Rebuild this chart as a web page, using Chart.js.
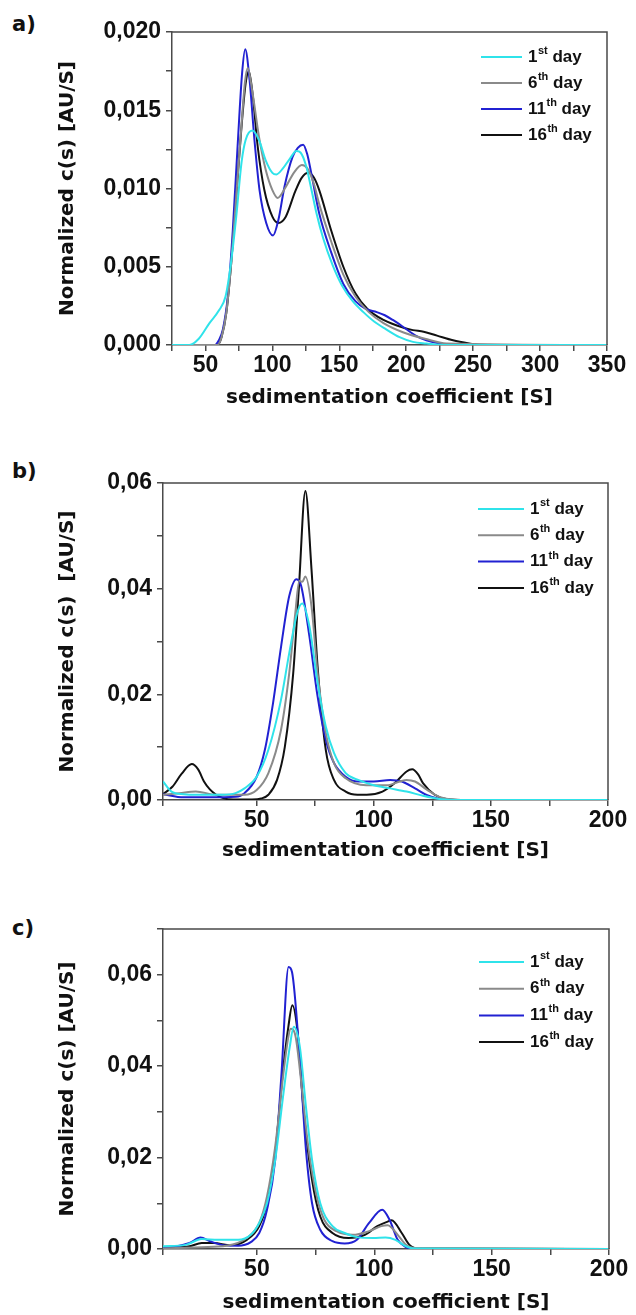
<!DOCTYPE html>
<html>
<head>
<meta charset="utf-8">
<script src="https://cdn.jsdelivr.net/npm/chart.js@4.4.1/dist/chart.umd.min.js"></script>
<style>
  body { margin: 0; background: #fff; }
  #wrap { position: relative; width: 636px; height: 1315px; }
  canvas { position: absolute; left: 0; }
  .lab { position: absolute; left: 12px; font: bold 21px "DejaVu Sans", sans-serif; color: #111; }
</style>
</head>
<body>
<div id="wrap">
  <div class="lab" style="top:12px">a)</div>
  <div class="lab" style="top:459px">b)</div>
  <div class="lab" style="top:916px">c)</div>
  <canvas id="chartA" width="636" height="420" style="top:0"></canvas>
  <canvas id="chartB" width="636" height="450" style="top:420px"></canvas>
  <canvas id="chartC" width="636" height="445" style="top:870px"></canvas>
</div>
<script>
// legend labels
const dayNum = ['1', '6', '11', '16'];
const daySup = ['st', 'th', 'th', 'th'];
const dayColors = ['#2fe3ea', '#8a8a8a', '#2121d2', '#111111'];

// panel a) sedimentation coefficient [S] and c(s)
const a1x = [25, 38, 45, 53, 60, 65, 69, 73, 77, 80, 85, 90, 95, 100, 103, 108, 113, 118, 121, 125, 129, 133, 138, 145, 152, 160, 168, 176, 185, 195, 205, 215, 230, 350];
const a1y = [0, 0, 0.0004, 0.0014, 0.0022, 0.0031, 0.0052, 0.0082, 0.0117, 0.0131, 0.0137, 0.0131, 0.0118, 0.0110, 0.0109, 0.0113, 0.0119, 0.0124, 0.0123, 0.0115, 0.0100, 0.0084, 0.0068, 0.0051, 0.0038, 0.0028, 0.0021, 0.0015, 0.0010, 0.0005, 0.0002, 0.0001, 0, 0];
const a2x = [25, 59, 62, 65.5, 69.2, 73, 76.7, 79.5, 81.6, 85, 90, 95, 100, 104, 110, 116, 122, 126, 131, 135, 144, 153, 162, 172, 183, 198, 214, 230, 350];
const a2y = [0, 0, 0.0005, 0.002, 0.0052, 0.0095, 0.0138, 0.0168, 0.0177, 0.0162, 0.0133, 0.0112, 0.0099, 0.0094, 0.0101, 0.0110, 0.0115, 0.0113, 0.0103, 0.0090, 0.0066, 0.0045, 0.0031, 0.0021, 0.0014, 0.0008, 0.0004, 0.0001, 0];
const a3x = [25, 57, 60, 63, 66.7, 70.4, 74, 77.4, 79.7, 83, 86.6, 90.4, 95.4, 100.5, 104.5, 109, 115, 119, 123, 126, 129, 135, 144, 153, 162, 170, 178, 184, 190, 197, 207, 215, 225, 240, 350];
const a3y = [0, 0, 0.0003, 0.001, 0.0031, 0.0073, 0.0127, 0.0174, 0.0189, 0.0169, 0.0131, 0.0099, 0.0078, 0.0070, 0.0080, 0.0101, 0.0120, 0.0126, 0.0128, 0.0122, 0.0110, 0.0084, 0.0059, 0.0039, 0.0028, 0.0023, 0.0021, 0.0019, 0.0016, 0.0012, 0.0006, 0.0003, 0.0001, 0, 0];
const a4x = [25, 59, 62, 65.5, 69.2, 73, 76.7, 80, 82.4, 85.4, 89, 94, 100, 104.5, 110, 117, 122, 127, 131, 135, 144, 153, 162, 171, 183, 198, 205, 213, 223, 235, 247, 255, 350];
const a4y = [0, 0, 0.0005, 0.002, 0.0052, 0.0095, 0.0137, 0.0167, 0.0175, 0.0159, 0.0127, 0.0099, 0.0082, 0.0078, 0.0082, 0.0098, 0.0107, 0.0110, 0.0107, 0.0099, 0.0073, 0.0050, 0.0033, 0.0023, 0.0016, 0.0011, 0.00095, 0.00085, 0.0006, 0.0003, 0.0001, 0, 0];

// panel b)
const b1x = [10, 13.6, 18.8, 25, 35, 41, 44.8, 50, 55, 60.4, 63.9, 67.3, 69.4, 72.5, 76, 79.5, 83, 88, 93.3, 100, 107, 114, 121, 128, 135, 200];
const b1y = [0.0035, 0.0016, 0.0011, 0.0010, 0.0010, 0.0013, 0.0022, 0.0044, 0.0095, 0.019, 0.0278, 0.0354, 0.0372, 0.0329, 0.0222, 0.0139, 0.0089, 0.0051, 0.0038, 0.0028, 0.0022, 0.0016, 0.0008, 0.0002, 0, 0];
const b2x = [10, 17, 24, 32.7, 44.8, 50, 55, 60.4, 63.9, 66.5, 68.2, 69.5, 70.8, 73.4, 76, 79.5, 83, 88, 96.8, 105.5, 114, 117.6, 122.8, 128, 133, 140, 200];
const b2y = [0.001, 0.0013, 0.0016, 0.001, 0.001, 0.0019, 0.0051, 0.0133, 0.024, 0.0354, 0.0415, 0.0413, 0.0423, 0.0367, 0.024, 0.0127, 0.007, 0.0041, 0.0028, 0.0028, 0.0038, 0.0035, 0.0019, 0.0006, 0.0001, 0, 0];
const b3x = [10, 18.8, 30, 41, 44.8, 50, 53.5, 57, 60.4, 63.9, 67, 69, 72.5, 76, 79.5, 83, 88, 93.3, 100, 107, 112, 117.6, 122.8, 128, 135, 200];
const b3y = [0.0011, 0.0005, 0.0005, 0.0006, 0.0013, 0.0044, 0.0095, 0.0184, 0.029, 0.0386, 0.0418, 0.0405, 0.031, 0.0196, 0.0114, 0.007, 0.0044, 0.0035, 0.0035, 0.0038, 0.0035, 0.0022, 0.0009, 0.0002, 0, 0];
const b4x = [10, 14, 18, 22.3, 25, 27.5, 30, 32.7, 36, 40, 48, 52, 55, 58.7, 62, 65.6, 68, 70.8, 73.4, 76, 79.5, 83, 88, 93, 97, 103.7, 109, 114, 116.4, 119, 121, 126, 131, 140, 200];
const b4y = [0.0011, 0.0025, 0.0050, 0.0068, 0.0058, 0.0035, 0.0020, 0.0010, 0.0003, 0.0001, 0.0001, 0.0003, 0.001, 0.0038, 0.0100, 0.0240, 0.0400, 0.0585, 0.0437, 0.0253, 0.0095, 0.0038, 0.0016, 0.0010, 0.0010, 0.0016, 0.0032, 0.0054, 0.0058, 0.0048, 0.0032, 0.0010, 0.0002, 0, 0];

// panel c)
const c1x = [10, 19.6, 26.5, 33.5, 42, 47.4, 51, 54.3, 57.8, 61.3, 64, 65.7, 68.3, 70.9, 73.5, 77, 82.2, 87.4, 92.6, 99.6, 104.8, 109, 113.5, 117, 200];
const c1y = [0.0006, 0.0009, 0.0022, 0.002, 0.002, 0.0031, 0.0057, 0.01, 0.0195, 0.034, 0.0442, 0.0486, 0.0442, 0.0311, 0.0195, 0.01, 0.005, 0.0035, 0.0026, 0.0024, 0.0025, 0.002, 0.0006, 0.0001, 0];
const c2x = [10, 26.5, 37, 45.7, 51, 54.3, 57.8, 61.3, 63.4, 64.4, 66.5, 69.1, 71.7, 75.2, 78.7, 83.9, 90.9, 97.8, 103, 105.7, 110, 113.5, 117, 200];
const c2y = [0.0001, 0.0004, 0.0007, 0.0024, 0.0057, 0.0115, 0.0224, 0.0384, 0.0464, 0.0482, 0.0464, 0.0355, 0.0231, 0.0122, 0.0064, 0.0039, 0.0031, 0.0039, 0.005, 0.0052, 0.0031, 0.0009, 0.0002, 0];
const c3x = [10, 16, 21.3, 26, 30, 35, 42, 47.4, 51, 54.3, 57.8, 60.4, 63.5, 65, 68.3, 70.9, 73.5, 77, 82.2, 87.4, 92.6, 97.8, 103.4, 106.5, 110, 113.5, 118, 200];
const c3y = [0.0004, 0.0006, 0.0013, 0.0025, 0.0017, 0.0009, 0.0007, 0.0015, 0.0035, 0.0086, 0.0195, 0.0377, 0.0617, 0.0605, 0.0413, 0.0217, 0.010, 0.0042, 0.0017, 0.0012, 0.002, 0.0057, 0.0086, 0.0064, 0.002, 0.0004, 0, 0];
const c4x = [10, 21.3, 26.5, 31.7, 38.7, 45.7, 51, 54.3, 57.8, 61.3, 63.4, 65.1, 67.4, 70, 73.5, 77, 82.2, 89, 96, 101.3, 105.7, 107.4, 111.7, 115, 119, 200];
const c4y = [0.0002, 0.0006, 0.0013, 0.0013, 0.0008, 0.002, 0.005, 0.01, 0.021, 0.0399, 0.0486, 0.0533, 0.0471, 0.0297, 0.0151, 0.0071, 0.0035, 0.0024, 0.0031, 0.005, 0.006, 0.0063, 0.0035, 0.0009, 0.0001, 0];

const tickFont = { family: '"Liberation Sans", Arial, sans-serif', size: 23, weight: 'bold' };
const titleFont = { family: '"DejaVu Sans", Verdana, sans-serif', size: 20, weight: 'bold' };
const axisColor = '#4a4a4a';

function pts(xs, ys) {
  return xs.map((x, i) => ({ x: x, y: ys[i] }));
}

function isMajor(v, step) {
  const r = v / step;
  return Math.abs(r - Math.round(r)) < 1e-6;
}

// frame on top/right + legend with superscripts
const framePlugin = {
  id: 'frame',
  afterDatasetsDraw(chart, args, opts) {
    const { ctx, chartArea: ca } = chart;
    ctx.save();
    ctx.strokeStyle = axisColor;
    ctx.lineWidth = 1.5;
    ctx.beginPath();
    ctx.moveTo(ca.left, ca.top);
    ctx.lineTo(ca.right, ca.top);
    ctx.lineTo(ca.right, ca.bottom);
    ctx.stroke();

    // legend
    const x0 = ca.right - opts.fromRight;
    ctx.textBaseline = 'middle';
    dayNum.forEach((n, i) => {
      const y = ca.top + opts.first + i * opts.gap;
      ctx.strokeStyle = dayColors[i];
      ctx.lineWidth = 2;
      ctx.beginPath();
      ctx.moveTo(x0, y);
      ctx.lineTo(x0 + opts.lineLen, y);
      ctx.stroke();
      let tx = x0 + opts.lineLen + 6;
      ctx.fillStyle = '#111';
      ctx.font = 'bold 17px "Liberation Sans", Arial, sans-serif';
      ctx.fillText(n, tx, y);
      tx += ctx.measureText(n).width + 0.5;
      ctx.font = 'bold 11px "Liberation Sans", Arial, sans-serif';
      ctx.fillText(daySup[i], tx, y - 6);
      tx += ctx.measureText(daySup[i]).width;
      ctx.font = 'bold 17px "Liberation Sans", Arial, sans-serif';
      ctx.fillText(' day', tx, y);
    });
    ctx.restore();
  }
};

function makePanel(id, series, p) {
  const datasets = series.map((s, i) => ({
    label: dayNum[i] + daySup[i] + ' day',
    data: pts(s[0], s[1]),
    borderColor: dayColors[i],
    borderWidth: 2,
    pointRadius: 0,
    fill: false,
    cubicInterpolationMode: 'monotone'
  }));
  return new Chart(document.getElementById(id), {
    type: 'line',
    data: { datasets: datasets },
    plugins: [framePlugin],
    options: {
      responsive: false,
      animation: false,
      devicePixelRatio: 1,
      layout: { padding: { left: 56, top: p.padTop, right: p.padRight, bottom: p.padBottom } },
      plugins: {
        legend: { display: false },
        tooltip: { enabled: false },
        frame: p.legend
      },
      scales: {
        x: {
          type: 'linear',
          min: p.xMin, max: p.xMax,
          afterFit(scale) { scale.height = p.xHeight; },
          border: { display: true, color: axisColor, width: 1.5 },
          grid: { drawOnChartArea: false, drawTicks: true, tickLength: 6, color: axisColor, lineWidth: 1.5 },
          ticks: {
            stepSize: 25, autoSkip: false, maxRotation: 0, padding: 1,
            color: '#111', font: tickFont,
            callback: (v) => (isMajor(v, 50) ? String(v) : '')
          },
          title: { display: true, text: 'sedimentation coefficient [S]', color: '#111', font: titleFont, padding: 0 }
        },
        y: {
          min: 0, max: p.yMax,
          afterFit(scale) { scale.width = p.yWidth; },
          border: { display: true, color: axisColor, width: 1.5 },
          grid: { drawOnChartArea: false, drawTicks: true, tickLength: 6, color: axisColor, lineWidth: 1.5 },
          ticks: {
            stepSize: p.yMinor, autoSkip: false, padding: 5,
            color: '#111', font: tickFont,
            callback: (v) => (isMajor(v, p.yMajor) ? v.toFixed(p.dec).replace('.', ',') : '')
          },
          title: { display: true, text: p.yTitle, color: '#111', font: titleFont, padding: 0 }
        }
      }
    }
  });
}

makePanel('chartA', [[a1x, a1y], [a2x, a2y], [a3x, a3y], [a4x, a4y]], {
  padTop: 32, padRight: 29, padBottom: 10, xHeight: 65, yWidth: 116,
  xMin: 25, xMax: 350, yMax: 0.02, yMinor: 0.0025, yMajor: 0.005, dec: 3,
  yTitle: 'Normalized c(s) [AU/S]',
  legend: { fromRight: 126, lineLen: 41, first: 25, gap: 26 }
});

makePanel('chartB', [[b1x, b1y], [b2x, b2y], [b3x, b3y], [b4x, b4y]], {
  padTop: 63, padRight: 28, padBottom: 7, xHeight: 63, yWidth: 107,
  xMin: 10, xMax: 200, yMax: 0.06, yMinor: 0.01, yMajor: 0.02, dec: 2,
  yTitle: 'Normalized c(s)  [AU/S]',
  legend: { fromRight: 130, lineLen: 46, first: 26, gap: 26.3 }
});

makePanel('chartC', [[c1x, c1y], [c2x, c2y], [c3x, c3y], [c4x, c4y]], {
  padTop: 59, padRight: 27, padBottom: 0, xHeight: 66, yWidth: 107,
  xMin: 10, xMax: 200, yMax: 0.07, yMinor: 0.01, yMajor: 0.02, dec: 2,
  yTitle: 'Normalized c(s) [AU/S]',
  legend: { fromRight: 130, lineLen: 45, first: 33, gap: 26.7 }
});
</script>
</body>
</html>
